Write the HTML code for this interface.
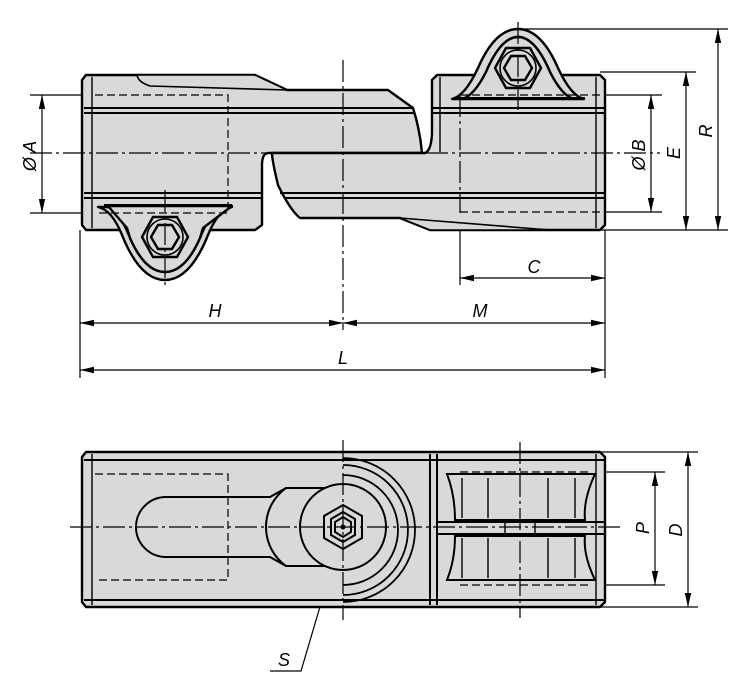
<!DOCTYPE html>
<html><head><meta charset="utf-8"><style>
html,body{margin:0;padding:0;background:#fff;}
svg{display:block;}
text{font-family:"Liberation Sans",sans-serif;font-style:italic;font-size:18px;fill:#000;}
</style></head><body>
<svg width="750" height="692" viewBox="0 0 750 692" xmlns="http://www.w3.org/2000/svg">
<defs>
<marker id="a" markerWidth="14" markerHeight="8" refX="14" refY="4" orient="auto-start-reverse" markerUnits="userSpaceOnUse">
<path d="M0,0.8 L14,4 L0,7.2 Z" fill="#000"/></marker>
</defs>
<g fill="none" stroke="#000" stroke-width="1.2">
<line x1="30" y1="95" x2="95" y2="95"/><line x1="30" y1="213" x2="95" y2="213"/>
<line x1="600" y1="95" x2="662" y2="95"/><line x1="600" y1="212" x2="662" y2="212"/>
<line x1="600" y1="72" x2="696" y2="72"/><line x1="520" y1="29" x2="728" y2="29"/>
<line x1="600" y1="230" x2="728" y2="230"/>
<line x1="80" y1="230" x2="80" y2="378"/><line x1="605" y1="230" x2="605" y2="378"/>
<line x1="460" y1="213" x2="460" y2="285"/>
<line x1="42" y1="95" x2="42" y2="213" marker-start="url(#a)" marker-end="url(#a)"/>
<line x1="651" y1="95" x2="651" y2="212" marker-start="url(#a)" marker-end="url(#a)"/>
<line x1="686" y1="72" x2="686" y2="230" marker-start="url(#a)" marker-end="url(#a)"/>
<line x1="718" y1="29" x2="718" y2="230" marker-start="url(#a)" marker-end="url(#a)"/>
<line x1="460" y1="278" x2="605" y2="278" marker-start="url(#a)" marker-end="url(#a)"/>
<line x1="80" y1="323" x2="343" y2="323" marker-start="url(#a)" marker-end="url(#a)"/>
<line x1="343" y1="323" x2="605" y2="323" marker-start="url(#a)" marker-end="url(#a)"/>
<line x1="80" y1="370" x2="605" y2="370" marker-start="url(#a)" marker-end="url(#a)"/>
<line x1="590" y1="452" x2="698" y2="452"/><line x1="590" y1="607" x2="698" y2="607"/>
<line x1="590" y1="472" x2="665" y2="472"/><line x1="590" y1="585" x2="665" y2="585"/>
<line x1="655" y1="472" x2="655" y2="585" marker-start="url(#a)" marker-end="url(#a)"/>
<line x1="688" y1="452" x2="688" y2="607" marker-start="url(#a)" marker-end="url(#a)"/>
<polyline points="322,600 301,671 270,671"/>
</g>

<!-- TOP VIEW -->
<g stroke="#000" stroke-width="2.4" fill="#d9d9d9" stroke-linejoin="round">
<path d="M86,75 L255,75 L287,90 L388,90 L413,108 Q420,130 422,153 L270,153 Q262,152 262,165 L262,225 L255,230 L86,230 L82,225 L82,80 Z"/>
<path d="M137,75 L255,75 L287,90 L150,86 Q138,82 137,75 Z" stroke-width="1.6"/>
<path d="M437,75 L600,75 L605,80 L605,225 L600,230 L550,230 L430,230 L400,218 L300,218 Q290,210 278,185 Q272,160 272,153 L425,153 Q432,150 432,130 L432,80 Z"/>
<path d="M400,218 L550,230 L430,230 Z" stroke-width="1.6"/>
<!-- left stirrup -->
<path d="M98,207 Q112,210 122,235 Q140,280 165,280 Q190,280 208,235 Q218,210 232,207 L222,207 Q210,212 200,238 Q185,272 165,272 Q145,272 130,238 Q120,212 108,207 Z"/>
<path d="M108,206 L232,206 L203,228 L200,238 Q185,272 165,272 Q145,272 130,238 L127,228 Z"/>
<line x1="104" y1="205" x2="232" y2="205" stroke-width="2"/>
<polygon points="142,237 153,217 177,217 188,237 177,257 153,257"/>
<circle cx="165" cy="237" r="18" fill="none" stroke-width="1.6"/>
<polygon points="151,237 158,225 172,225 179,237 172,249 158,249"/>
<!-- right stirrup -->
<path d="M452,99 Q465,96 478,68 Q495,29 518,29 Q541,29 558,68 Q571,96 584,99 L574,99 Q562,96 550,72 Q535,37 518,37 Q501,37 486,72 Q474,96 462,99 Z"/>
<path d="M462,99 Q474,96 486,72 Q501,37 518,37 Q535,37 550,72 Q562,96 574,99 Z"/>
<line x1="458" y1="98" x2="585" y2="98" stroke-width="2"/>
<polygon points="495,68 506,48 530,48 541,68 530,88 506,88"/>
<circle cx="518" cy="68" r="18" fill="none" stroke-width="1.6"/>
<polygon points="504,68 511,56 525,56 532,68 525,80 511,80"/>
</g>
<g stroke="#000" stroke-width="2" fill="none">
<line x1="84" y1="108" x2="412" y2="108"/><line x1="84" y1="113" x2="414" y2="113"/>
<line x1="84" y1="193" x2="262" y2="193"/><line x1="84" y1="198" x2="262" y2="198"/>
<line x1="432" y1="108" x2="604" y2="108"/><line x1="432" y1="113" x2="604" y2="113"/>
<line x1="280" y1="193" x2="604" y2="193"/><line x1="285" y1="198" x2="604" y2="198"/>
<line x1="92" y1="77" x2="92" y2="228" stroke-width="1.4"/>
<line x1="596" y1="77" x2="596" y2="228" stroke-width="1.4"/>
<line x1="440" y1="77" x2="440" y2="152" stroke-width="1.4"/>
</g>
<g stroke="#000" stroke-width="1.2" fill="none">
<line x1="30" y1="153" x2="660" y2="153" stroke-dasharray="22,4,3,4"/>
<line x1="343" y1="60" x2="343" y2="330" stroke-dasharray="22,4,3,4"/>
<line x1="165" y1="190" x2="165" y2="285" stroke-dasharray="22,4,3,4"/>
<line x1="518" y1="22" x2="518" y2="110" stroke-dasharray="22,4,3,4"/>
<polyline points="95,95 228,95 228,213 95,213" stroke-dasharray="8,4"/>
<line x1="460" y1="95" x2="600" y2="95" stroke-dasharray="8,4"/>
<line x1="460" y1="95" x2="460" y2="213" stroke-dasharray="22,4,3,4"/>
<line x1="460" y1="212" x2="600" y2="212" stroke-dasharray="8,4"/>
</g>

<!-- BOTTOM VIEW -->
<g stroke="#000" stroke-width="2.4" fill="#d9d9d9" stroke-linejoin="round">
<path d="M86,452 L600,452 L605,457 L605,602 L600,607 L86,607 L82,602 L82,457 Z"/>
</g>
<g stroke="#000" stroke-width="2" fill="none">
<line x1="84" y1="460" x2="604" y2="460"/>
<line x1="84" y1="600" x2="604" y2="600"/>
<line x1="92" y1="454" x2="92" y2="605" stroke-width="1.4"/>
<line x1="596" y1="454" x2="596" y2="605" stroke-width="1.4"/>
<line x1="430" y1="454" x2="430" y2="605"/><line x1="437" y1="454" x2="437" y2="605"/>
<line x1="437" y1="522" x2="605" y2="522"/><line x1="437" y1="534" x2="605" y2="534"/>
<path d="M343,458 A72,72 0 0 1 343,602" stroke-width="1.8"/>
<path d="M343,465 A64,64 0 0 1 343,595" stroke-width="1.8"/>
<path d="M343,475 A54,54 0 0 1 343,585" stroke-width="1.8"/>
<path d="M166,497 L270,497 L286,488 L343,488 L343,566 L286,566 L270,557 L166,557 A30,30 0 0 1 166,497 Z" fill="#d9d9d9"/>
<path d="M286,488 A48,48 0 0 0 286,566"/>
<circle cx="343" cy="527" r="43" fill="#d9d9d9"/>
<polygon points="343,505 362,516 362,538 343,549 324,538 324,516"/>
<polygon points="343,512 355,519 355,535 343,542 331,535 331,519"/>
<polygon points="343,517 351,522 351,532 343,537 335,532 335,522"/>
<path d="M447,474 L595,474 Q583,500 585,520 L455,520 Q455,495 447,474 Z"/>
<path d="M447,580 L595,580 Q583,555 585,536 L455,536 Q455,560 447,580 Z"/>
<line x1="462" y1="478" x2="462" y2="518" stroke-width="1.4"/><line x1="488" y1="478" x2="488" y2="518" stroke-width="1.4"/><line x1="548" y1="478" x2="548" y2="518" stroke-width="1.4"/><line x1="575" y1="478" x2="575" y2="518" stroke-width="1.4"/>
<line x1="462" y1="538" x2="462" y2="578" stroke-width="1.4"/><line x1="488" y1="538" x2="488" y2="578" stroke-width="1.4"/><line x1="548" y1="538" x2="548" y2="578" stroke-width="1.4"/><line x1="575" y1="538" x2="575" y2="578" stroke-width="1.4"/>
<rect x="505" y="520" width="30" height="14" stroke-width="1.4"/>
</g>
<circle cx="343" cy="527" r="2.5" fill="#000"/>
<g stroke="#000" stroke-width="1.2" fill="none">
<line x1="70" y1="527" x2="620" y2="527" stroke-dasharray="22,4,3,4"/>
<line x1="343" y1="440" x2="343" y2="620" stroke-dasharray="22,4,3,4"/>
<line x1="520" y1="442" x2="520" y2="618" stroke-dasharray="22,4,3,4"/>
<polyline points="95,474 228,474 228,580 95,580" stroke-dasharray="8,4"/>
<line x1="460" y1="472" x2="590" y2="472" stroke-dasharray="8,4"/>
<line x1="460" y1="585" x2="590" y2="585" stroke-dasharray="8,4"/>
</g>

<text transform="translate(36,156) rotate(-90)" text-anchor="middle">Ø A</text>
<text transform="translate(645,155) rotate(-90)" text-anchor="middle">Ø B</text>
<text transform="translate(680,153) rotate(-90)" text-anchor="middle">E</text>
<text transform="translate(712,131) rotate(-90)" text-anchor="middle">R</text>
<text x="534" y="273" text-anchor="middle">C</text>
<text x="215" y="317" text-anchor="middle">H</text>
<text x="480" y="317" text-anchor="middle">M</text>
<text x="343" y="364" text-anchor="middle">L</text>
<text transform="translate(649,528) rotate(-90)" text-anchor="middle">P</text>
<text transform="translate(682,530) rotate(-90)" text-anchor="middle">D</text>
<text x="284" y="666" text-anchor="middle">S</text>
</svg>
</body></html>
